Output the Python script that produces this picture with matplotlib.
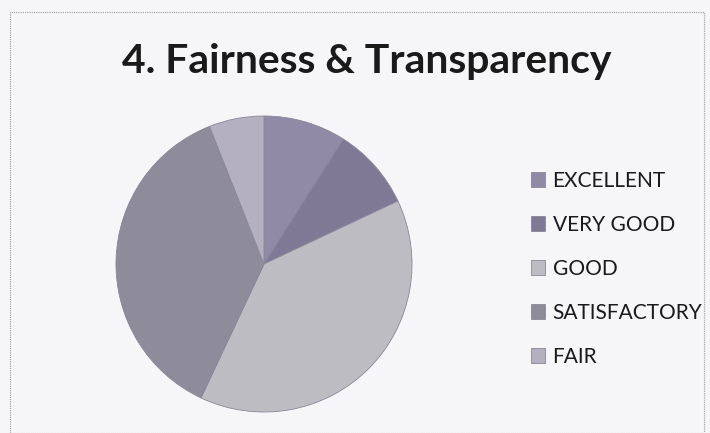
import matplotlib
matplotlib.use('Agg')
import matplotlib.pyplot as plt
from matplotlib.patches import Rectangle

labels = ['EXCELLENT', 'VERY GOOD', 'GOOD', 'SATISFACTORY', 'FAIR']
values = [9, 9, 39, 37, 6]
colors = ['#908aa6', '#7f7996', '#bdbcc2', '#8e8b9a', '#b4b0bf']

W, H = 710, 433
fig = plt.figure(figsize=(W / 100, H / 100), dpi=100)
fig.patch.set_facecolor('#f6f5f7')

# dotted frame of the scanned slide
fig.add_artist(Rectangle((10 / W, 0), (W - 16) / W, (H - 12) / H, transform=fig.transFigure,
                         fill=False, ec='#9a9a9a', lw=0.8, ls=(0, (1, 1))))

fig.text(367 / W, 1 - 62 / H, '4. Fairness & Transparency', ha='center', va='center',
         fontsize=29.4, fontweight='bold', family='Lato', color='#1a1a1a')

cx, cy, r = 264, 264, 148
ax = fig.add_axes([(cx - r) / W, (H - cy - r) / H, 2 * r / W, 2 * r / H])
wedges, _ = ax.pie(values, colors=colors, startangle=90, counterclock=False,
                   wedgeprops=dict(linewidth=0.6, edgecolor='#8a8699'))
ax.set_xlim(-1, 1)
ax.set_ylim(-1, 1)
ax.set_aspect('equal')
ax.axis('off')

leg = fig.legend(wedges, labels, loc='upper left', bbox_to_anchor=(512 / W, 1 - 152 / H),
                 frameon=False, prop=dict(family='Lato', size=15), handlelength=0.7,
                 handleheight=0.7, handletextpad=0.35, labelspacing=1.15)
for t in leg.get_texts():
    t.set_color('#1a1a1a')

fig.savefig('out.png', dpi=100, facecolor=fig.get_facecolor())
